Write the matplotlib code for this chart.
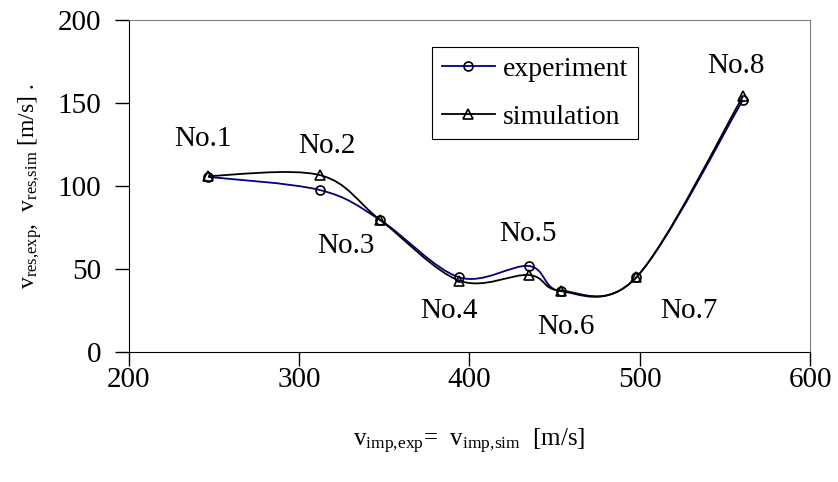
import numpy as np
import matplotlib
matplotlib.use('Agg')
import matplotlib.pyplot as plt
from matplotlib.path import Path
from matplotlib.patches import PathPatch
from matplotlib.lines import Line2D

# impact velocity [m/s] and residual velocities [m/s]
v_imp = [246.5, 312.0, 347.6, 394.0, 435.0, 453.5, 498.0, 560.6]
v_res_exp = [105.5, 97.6, 79.5, 45.0, 51.8, 36.7, 45.0, 151.8]
v_res_sim = [106.0, 106.6, 79.5, 43.0, 46.4, 37.0, 45.0, 154.0]
test_names = ['No.1', 'No.2', 'No.3', 'No.4', 'No.5', 'No.6', 'No.7', 'No.8']
label_pos = [(243.5, 128.3), (316.5, 124.1), (327.6, 63.9), (388.2, 24.7),
             (434.1, 71.1), (456.5, 15.1), (528.8, 24.7), (556.5, 172.3)]

plt.rcParams['font.family'] = ['Liberation Serif', 'DejaVu Serif']
plt.rcParams['mathtext.fontset'] = 'custom'
plt.rcParams['mathtext.rm'] = 'Liberation Serif'
plt.rcParams['mathtext.it'] = 'Liberation Serif:italic'


def smooth_path(xs, ys):
    # excel-like smoothed line: catmull-rom as cubic bezier segments
    pts = np.column_stack([xs, ys])
    n = len(pts)
    verts = [pts[0]]
    codes = [Path.MOVETO]
    for i in range(n - 1):
        p0 = pts[max(i - 1, 0)]
        p1 = pts[i]
        p2 = pts[i + 1]
        p3 = pts[min(i + 2, n - 1)]
        verts += [p1 + (p2 - p0) / 6, p2 - (p3 - p1) / 6, p2]
        codes += [Path.CURVE4] * 3
    return Path(verts, codes)


fig = plt.figure(figsize=(8.38, 4.82), dpi=100)
ax = fig.add_axes([0.1539, 0.2697, 0.8127, 0.6888])

ax.add_patch(PathPatch(smooth_path(v_imp, v_res_exp), fill=False,
                       edgecolor='#000080', lw=1.3, zorder=2))
ax.add_patch(PathPatch(smooth_path(v_imp, v_res_sim), fill=False,
                       edgecolor='black', lw=1.3, zorder=2))
ax.plot(v_imp, v_res_exp, linestyle='none', marker='o', ms=6.5,
        mfc='none', mec='black', mew=1.2, zorder=3)
ax.plot(v_imp, v_res_sim, linestyle='none', marker='^', ms=7,
        mfc='none', mec='black', mew=1.2, zorder=3)

for name, (lx, ly) in zip(test_names, label_pos):
    ax.text(lx, ly, name, fontsize=21, ha='center', va='center')

ax.set_xlim(200, 600)
ax.set_ylim(0, 200)
ax.set_xticks([200, 300, 400, 500, 600])
ax.set_yticks([0, 50, 100, 150, 200])
ax.tick_params(axis='both', labelsize=21, direction='out', length=10, width=1)
ax.tick_params(axis='y', pad=10)
ax.tick_params(axis='x', pad=1)
for s in ['top', 'right']:
    ax.spines[s].set_color('#808080')
for s in ['left', 'bottom']:
    ax.spines[s].set_color('black')

ax.set_xlabel(r'$\mathrm{v}_{\mathrm{imp{,}exp}}$=  $\mathrm{v}_{\mathrm{imp{,}sim}}$  [m/s]',
              fontsize=18, labelpad=24)
ax.set_ylabel(r'$\mathrm{v}_{\mathrm{res{,}exp}}$,  $\mathrm{v}_{\mathrm{res{,}sim}}$ [m/s] .',
              fontsize=17, labelpad=10)

handles = [Line2D([], [], color='#000080', lw=1.3, marker='o', ms=6.5,
                  mfc='none', mec='black', mew=1.2),
           Line2D([], [], color='black', lw=1.3, marker='^', ms=7,
                  mfc='none', mec='black', mew=1.2)]
leg = ax.legend(handles, ['experiment', 'simulation'], loc='upper left',
                bbox_to_anchor=(0.445, 0.919), borderaxespad=0, fontsize=20,
                fancybox=False, framealpha=1, edgecolor='black',
                handlelength=1.9, handletextpad=0.3, borderpad=0.35,
                labelspacing=0.8)
leg.get_frame().set_linewidth(0.8)

plt.savefig('out.png', dpi=100)
